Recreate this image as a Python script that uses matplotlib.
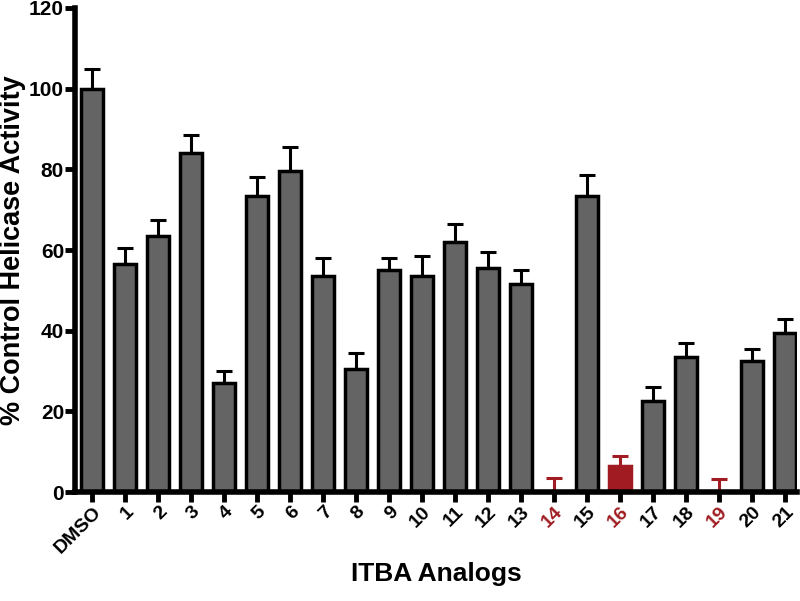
import matplotlib
matplotlib.use("Agg")
import matplotlib.pyplot as plt
import numpy as np

categories = ["DMSO"] + [str(i) for i in range(1, 22)]
values = [100, 56.5, 63.5, 84, 27, 73.5, 79.5, 53.5, 30.5, 55, 53.5, 62, 55.5, 51.5,
          0, 73.5, 6.5, 22.5, 33.5, 0, 32.5, 39.5]
errors = [4.8, 4, 4, 4.5, 3, 4.5, 6, 4.5, 4, 3, 5, 4.5, 4, 3.5,
          3.5, 5, 2.5, 3.5, 3.5, 3.2, 3, 3.5]
highlight = ["14", "16", "19"]

GRAY = "#646464"
RED = "#A01C22"

plt.rcParams['font.family'] = ['Liberation Sans', 'DejaVu Sans']
plt.rcParams['font.weight'] = 'bold'

fig = plt.figure(figsize=(8, 6.01), dpi=100)
ax = fig.add_axes([0.094, 0.181, 0.902, 0.806])

x = np.arange(len(categories))
colors = [RED if c in highlight else GRAY for c in categories]
ecolors = [RED if c in highlight else "black" for c in categories]
edgecolors = [RED if c in highlight else "black" for c in categories]

ax.bar(x, values, width=0.66, color=colors, edgecolor=edgecolors, linewidth=2.5, zorder=2)
for xi, v, e, ec in zip(x, values, errors, ecolors):
    ax.errorbar(xi, v, yerr=[[0], [e]], fmt='none', ecolor=ec, elinewidth=2.2,
                capsize=6, capthick=2.2, zorder=1)

ax.set_xlim(-0.52, 21.35)
ax.set_ylim(0, 120)
ax.set_yticks([0, 20, 40, 60, 80, 100, 120])
ax.set_xticks(x)
ax.set_xticklabels(categories, rotation=45, ha='right', rotation_mode='anchor')
for lbl, c in zip(ax.get_xticklabels(), categories):
    lbl.set_fontsize(14)
    lbl.set_fontweight('bold')
    if c in highlight:
        lbl.set_color(RED)
for lbl in ax.get_yticklabels():
    lbl.set_fontsize(15)
    lbl.set_fontweight('bold')

for s in ['top', 'right']:
    ax.spines[s].set_visible(False)
for s in ['left', 'bottom']:
    ax.spines[s].set_linewidth(4)
ax.tick_params(axis='both', width=3.5, length=7, direction='out', pad=1)

ax.set_ylabel("% Control Helicase Activity", fontsize=19.5, fontweight='bold', labelpad=2)
ax.set_xlabel("ITBA Analogs", fontsize=19, fontweight='bold', labelpad=4)

fig.savefig("out.png", dpi=100)
